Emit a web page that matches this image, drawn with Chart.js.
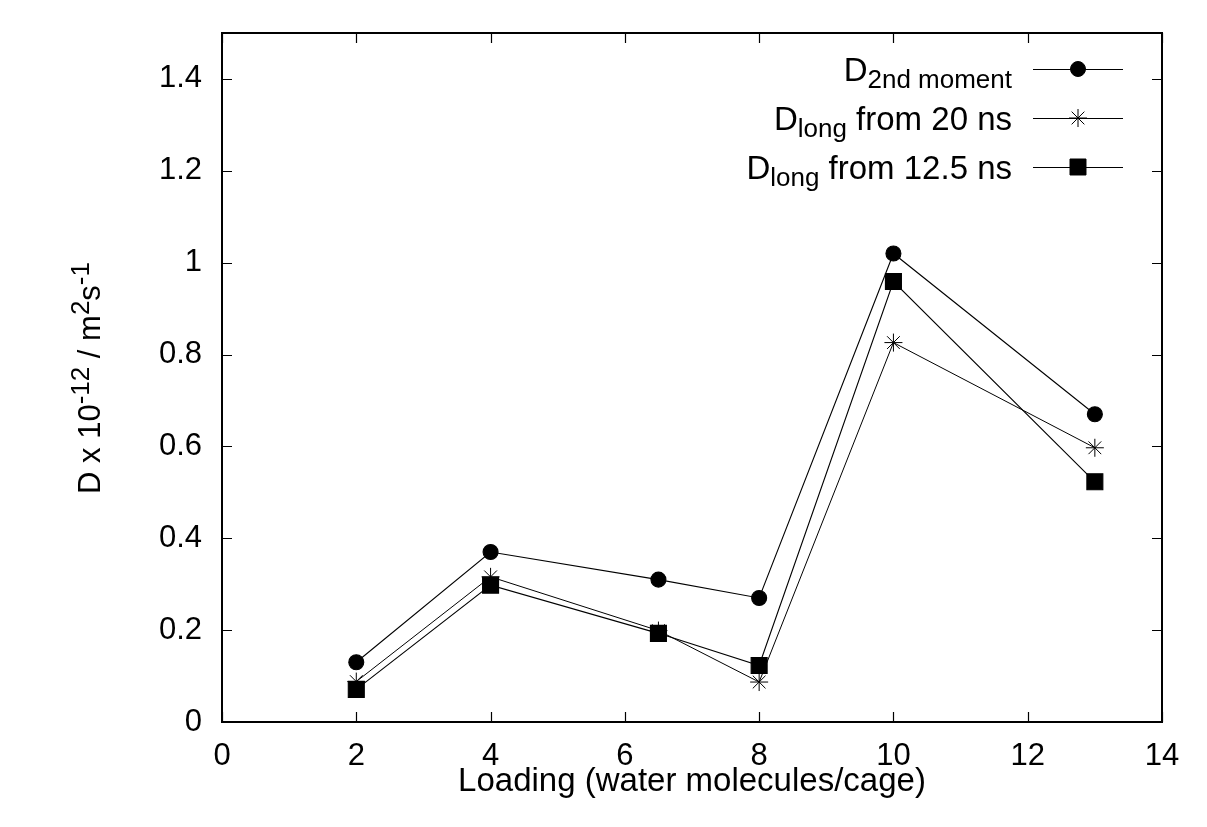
<!DOCTYPE html>
<html>
<head>
<meta charset="utf-8">
<script src="https://cdn.jsdelivr.net/npm/chart.js@4.4.0/dist/chart.umd.min.js"></script>
<style>
  body { margin: 0; background: #fff; }
  #wrap { width: 1207px; height: 827px; }
</style>
</head>
<body>
<div id="wrap"><canvas id="chart" width="1207" height="827"></canvas></div>
<script>
// loading (water molecules per cage) and diffusion coefficients, D x 10^-12 m^2/s
const loading = [2, 4, 6.5, 8, 10, 13];
const dSecondMoment = [0.13, 0.37, 0.31, 0.27, 1.02, 0.67];
const dLong20 = [0.088, 0.316, 0.199, 0.087, 0.826, 0.597];
const dLong125 = [0.071, 0.298, 0.193, 0.123, 0.959, 0.523];

const xTicks = [0, 2, 4, 6, 8, 10, 12, 14];
const yTicks = [0, 0.2, 0.4, 0.6, 0.8, 1, 1.2, 1.4];

// legend text pieces: [main, subscript, rest]
const legendLabels = [
    ['D', '2nd moment', ''],
    ['D', 'long', ' from 20 ns'],
    ['D', 'long', ' from 12.5 ns']
];
const yTitleParts = [
    ['D x 10', false], ['-12', true], [' / m', false], ['2', true], ['s', false], ['-1', true]
];

const FONT = '"Liberation Sans", Arial, Helvetica, sans-serif';

function toPoints(ys) {
    return loading.map((x, i) => ({ x: x, y: ys[i] }));
}

const seriesStyle = { borderColor: '#000', backgroundColor: '#000', showLine: true, borderWidth: 1.1, pointBorderColor: '#000', pointBackgroundColor: '#000' };

// frame + inward ticks on all four sides (gnuplot look)
const framePlugin = {
    id: 'frame',
    beforeDatasetsDraw(chart) {
        const { ctx, chartArea: a, scales: { x, y } } = chart;
        ctx.save();
        ctx.strokeStyle = '#000';
        ctx.lineWidth = 1.2;
        ctx.beginPath();
        xTicks.forEach(v => {
            const px = Math.round(x.getPixelForValue(v)) + 0.5;
            ctx.moveTo(px, a.bottom); ctx.lineTo(px, a.bottom - 10);
            ctx.moveTo(px, a.top); ctx.lineTo(px, a.top + 10);
        });
        yTicks.forEach(v => {
            const py = Math.round(y.getPixelForValue(v)) + 0.5;
            ctx.moveTo(a.left, py); ctx.lineTo(a.left + 10, py);
            ctx.moveTo(a.right, py); ctx.lineTo(a.right - 10, py);
        });
        ctx.stroke();
        ctx.lineWidth = 2;
        ctx.strokeRect(a.left, a.top, a.right - a.left, a.bottom - a.top);
        ctx.restore();
    },
    afterDraw(chart) {
        const ctx = chart.ctx;
        ctx.save();
        ctx.fillStyle = '#000';
        ctx.strokeStyle = '#000';
        ctx.textBaseline = 'alphabetic';

        // legend
        const textRight = 1012, lineX0 = 1033, lineX1 = 1123, markX = 1078;
        const rows = [69, 118, 167];
        const mainF = '33px ' + FONT, subF = '26px ' + FONT;
        chart.data.datasets.forEach((ds, i) => {
            const ly = rows[i];
            const parts = legendLabels[i];
            ctx.font = mainF;
            const w0 = ctx.measureText(parts[0]).width;
            const w2 = ctx.measureText(parts[2]).width;
            ctx.font = subF;
            const w1 = ctx.measureText(parts[1]).width;
            let tx = textRight - (w0 + w1 + w2);
            const base = ly + 12;
            ctx.font = mainF;
            ctx.fillText(parts[0], tx, base); tx += w0;
            ctx.font = subF;
            ctx.fillText(parts[1], tx, base + 7); tx += w1;
            ctx.font = mainF;
            ctx.fillText(parts[2], tx, base);

            ctx.lineWidth = ds.borderWidth;
            ctx.beginPath();
            ctx.moveTo(lineX0, ly + 0.5); ctx.lineTo(lineX1, ly + 0.5);
            ctx.stroke();
            ctx.lineWidth = ds.pointBorderWidth || 1;
            Chart.helpers.drawPoint(ctx, { pointStyle: ds.pointStyle, radius: ds.pointRadius, borderWidth: ds.pointBorderWidth || 1, rotation: 0 }, markX, ly);
        });

        // y axis title with superscripts
        const mainSize = 31, supSize = 26;
        let total = 0;
        yTitleParts.forEach(p => {
            ctx.font = (p[1] ? supSize : mainSize) + 'px ' + FONT;
            total += ctx.measureText(p[0]).width;
        });
        ctx.translate(100, 378);
        ctx.rotate(-Math.PI / 2);
        let tx = -total / 2;
        yTitleParts.forEach(p => {
            ctx.font = (p[1] ? supSize : mainSize) + 'px ' + FONT;
            ctx.fillText(p[0], tx, p[1] ? -11 : 0);
            tx += ctx.measureText(p[0]).width;
        });
        ctx.restore();
    }
};

const ctx = document.getElementById('chart').getContext('2d');
const chart = new Chart(ctx, {
    type: 'scatter',
    data: {
        datasets: [
            Object.assign({ label: 'D 2nd moment', data: toPoints(dSecondMoment), pointStyle: 'circle', pointRadius: 7.5 }, seriesStyle),
            Object.assign({ label: 'D long from 20 ns', data: toPoints(dLong20), pointStyle: 'star', pointRadius: 9, pointBorderWidth: 1 }, seriesStyle, { borderWidth: 1 }),
            Object.assign({ label: 'D long from 12.5 ns', data: toPoints(dLong125), pointStyle: 'rect', pointRadius: 11.3 }, seriesStyle)
        ]
    },
    options: {
        responsive: false,
        animation: false,
        events: [],
        layout: { padding: { top: 33, right: 45, left: 0, bottom: 0 } },
        plugins: {
            legend: { display: false },
            tooltip: { enabled: false }
        },
        scales: {
            x: {
                type: 'linear', min: 0, max: 14,
                afterBuildTicks: s => { s.ticks = xTicks.map(v => ({ value: v })); },
                afterFit: s => { s.height = 105; s.paddingLeft = 0; s.paddingRight = 0; },
                grid: { display: false, drawTicks: false },
                border: { display: false },
                ticks: { font: { family: FONT, size: 31 }, color: '#000', padding: 16, maxRotation: 0, autoSkip: false, callback: v => String(v) },
                title: { display: true, text: 'Loading (water molecules/cage)', font: { family: FONT, size: 33 }, color: '#000', padding: { top: 0, bottom: 25 } }
            },
            y: {
                type: 'linear', min: 0, max: 1.5,
                afterBuildTicks: s => { s.ticks = yTicks.map(v => ({ value: v })); },
                afterFit: s => { s.width = 222; s.paddingTop = 0; s.paddingBottom = 0; },
                grid: { display: false, drawTicks: false },
                border: { display: false },
                ticks: { font: { family: FONT, size: 31 }, color: '#000', padding: 20, autoSkip: false, callback: v => String(v) }
            }
        }
    },
    plugins: [framePlugin]
});
</script>
</body>
</html>
